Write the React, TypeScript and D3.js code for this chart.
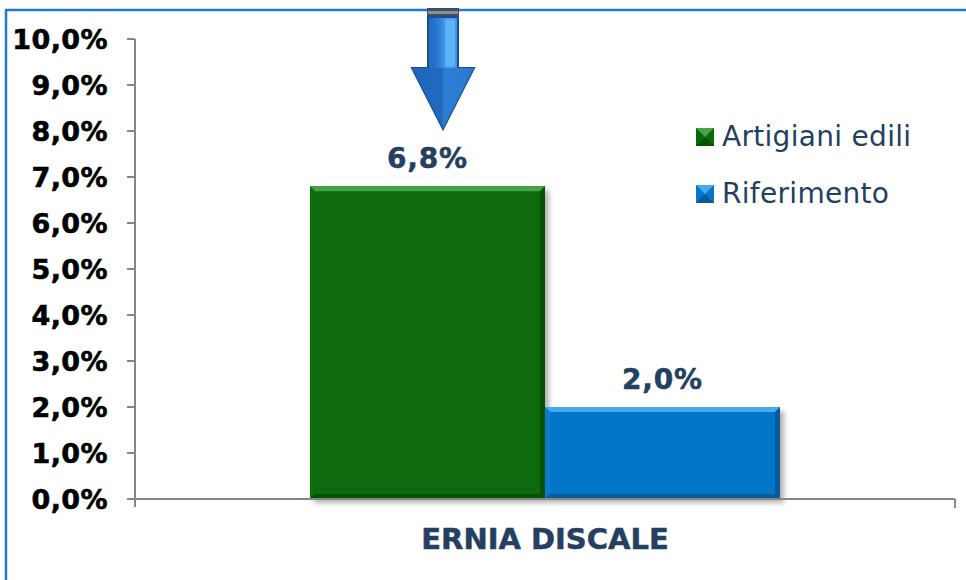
import React from "react";
import * as d3 from "d3";

const categories = ["ERNIA DISCALE"];
const seriesNames = ["Artigiani edili", "Riferimento"];
const seriesValues = [[6.8], [2.0]];
const yTicks = [0, 1, 2, 3, 4, 5, 6, 7, 8, 9, 10];

const W = 966;
const H = 580;
const M = { left: 135, right: 955, top: 39, bottom: 499 };

const colors = [
  { base: "#076a07", light: "#46a346", dark: "#055205", mid: "#087008" },
  { base: "#0676c8", light: "#47a8ec", dark: "#0a5a98", mid: "#0a7ccd" },
];

const fmt = (v: number) => v.toFixed(1).replace(".", ",") + "%";

export default function App() {
  const y = d3.scaleLinear().domain([0, 10]).range([M.bottom, M.top]);
  const x = d3
    .scaleBand<string>()
    .domain(categories)
    .range([M.left, M.right])
    .paddingInner(0)
    .paddingOuter(0.3723);
  const xs = d3
    .scaleBand<string>()
    .domain(seriesNames)
    .range([0, x.bandwidth()])
    .padding(0);

  const font = "'DejaVu Sans', Verdana, sans-serif";
  const navy = "#243f60";

  const acx = 443;
  const arrowPath = (cx: number) =>
    `M${cx - 15},17 L${cx + 15},17 L${cx + 15},68 L${cx + 31},68 L${cx},129 L${cx - 31},68 L${cx - 15},68 Z`;

  return (
    <svg width={W} height={H} style={{ position: "absolute", left: 0, top: 0 }}>
      <defs>
        <linearGradient id="arrowShaft" x1="0" x2="1" y1="0" y2="0">
          <stop offset="0" stopColor="#1a56a0" />
          <stop offset="0.4" stopColor="#2577cf" />
          <stop offset="0.6" stopColor="#4fa8f2" />
          <stop offset="1" stopColor="#1e6cc0" />
        </linearGradient>
        <filter id="shadow" x="-10%" y="-10%" width="130%" height="130%">
          <feGaussianBlur in="SourceAlpha" stdDeviation="2.5" />
          <feOffset dx="4" dy="4" result="b" />
          <feComponentTransfer>
            <feFuncA type="linear" slope="0.3" />
          </feComponentTransfer>
          <feMerge>
            <feMergeNode />
            <feMergeNode in="SourceGraphic" />
          </feMerge>
        </filter>
      </defs>
      <rect x={0} y={0} width={W} height={H} fill="#ffffff" />
      {/* frame */}
      <line x1={5} x2={W} y1={10} y2={10} stroke="#1f78d1" strokeWidth={2.5} />
      <line x1={6} x2={6} y1={10} y2={H} stroke="#1f78d1" strokeWidth={2.5} />

      {/* y axis */}
      <line x1={M.left} x2={M.left} y1={M.top} y2={M.bottom + 8} stroke="#868686" strokeWidth={2} />
      {yTicks.map((t) => (
        <g key={t}>
          <line x1={M.left - 8} x2={M.left} y1={y(t)} y2={y(t)} stroke="#868686" strokeWidth={2} />
          <text
            x={108}
            y={y(t) + 10}
            textAnchor="end"
            fontFamily={font}
            fontWeight="bold"
            fontSize={27}
            letterSpacing={0.4}
            stroke="#000000"
            strokeWidth={0.6}
            fill="#000000"
          >
            {fmt(t)}
          </text>
        </g>
      ))}

      {/* bars */}
      {categories.map((c, ci) =>
        seriesNames.map((s, si) => {
          const v = seriesValues[si][ci];
          const bx = (x(c) as number) + (xs(s) as number);
          const bw = xs.bandwidth();
          const by = y(v);
          const bh = y(0) - y(v);
          const col = colors[si];
          const b = 5;
          return (
            <g key={s}>
              <g filter="url(#shadow)">
                <rect x={bx} y={by} width={bw} height={bh} fill={col.base} />
              </g>
              <polygon
                points={`${bx},${by} ${bx + bw},${by} ${bx + bw - b},${by + b} ${bx + b},${by + b}`}
                fill={col.light}
              />
              <polygon
                points={`${bx},${by} ${bx + b},${by + b} ${bx + b},${by + bh - b} ${bx},${by + bh}`}
                fill={col.mid}
              />
              <polygon
                points={`${bx + bw},${by} ${bx + bw},${by + bh} ${bx + bw - b},${by + bh - b} ${bx + bw - b},${by + b}`}
                fill={col.dark}
              />
              <polygon
                points={`${bx},${by + bh} ${bx + bw},${by + bh} ${bx + bw - b},${by + bh - b} ${bx + b},${by + bh - b}`}
                fill={col.dark}
              />
              <text
                x={bx + bw / 2}
                y={by - 18}
                textAnchor="middle"
                fontFamily={font}
                fontWeight="bold"
                fontSize={28}
                letterSpacing={0.8}
                stroke={navy}
                strokeWidth={0.5}
                fill={navy}
              >
                {fmt(v)}
              </text>
            </g>
          );
        })
      )}

      {/* x axis */}
      <line x1={M.left} x2={M.right} y1={M.bottom} y2={M.bottom} stroke="#868686" strokeWidth={2} />
      <line x1={M.right} x2={M.right} y1={M.bottom} y2={M.bottom + 9} stroke="#868686" strokeWidth={2} />
      {categories.map((c) => (
        <text
          key={c}
          x={(x(c) as number) + x.bandwidth() / 2}
          y={549}
          textAnchor="middle"
          fontFamily={font}
          fontWeight="bold"
          fontSize={29}
          stroke={navy}
          strokeWidth={0.5}
          fill={navy}
        >
          {c}
        </text>
      ))}

      {/* legend */}
      {seriesNames.map((s, i) => {
        const ly = 128 + i * 57;
        const col = colors[i];
        return (
          <g key={s}>
            <rect x={696} y={ly} width={18} height={18} fill={col.base} />
            <polygon points={`${696},${ly} ${714},${ly} ${705},${ly + 9}`} fill={col.light} />
            <polygon points={`${696},${ly + 18} ${714},${ly + 18} ${705},${ly + 9}`} fill={col.dark} />
            <text x={722} y={ly + 18} fontFamily={font} fontSize={28} letterSpacing={0.3} fill={navy}>
              {s}
            </text>
          </g>
        );
      })}

      {/* arrow */}
      <g>
        <rect x={acx - 16} y={8} width={32} height={9} fill="#3d4f66" />
        <rect x={acx - 15} y={11} width={30} height={3} fill="#8a8f96" />
        <path d={arrowPath(acx)} fill="url(#arrowShaft)" stroke="#1b4f8f" strokeWidth={2} strokeLinejoin="miter" />
        <path d={`M${acx},68 L${acx + 31},68 L${acx},129 Z`} fill="#2a7ad0" opacity={0.9} />
        <path d={`M${acx - 31},68 L${acx},68 L${acx},129 Z`} fill="#1f68bd" opacity={0.9} />
        <path d={`M${acx + 2},20 L${acx + 12},20 L${acx + 12},66 L${acx + 2},66 Z`} fill="#5cb4f7" />
      </g>
    </svg>
  );
}
